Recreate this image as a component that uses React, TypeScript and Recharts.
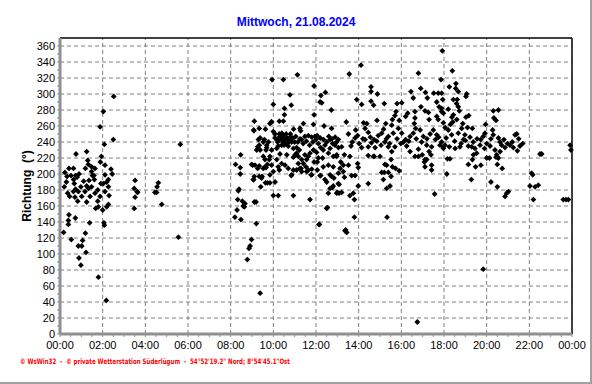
import { ScatterChart, Scatter, XAxis, YAxis, ReferenceLine } from 'recharts'

const TITLE = 'Mittwoch, 21.08.2024'
const Y_LABEL = 'Richtung  (°)'
const FOOTER = '© WsWin32  -  © private Wetterstation Süderlügum  -  54°52\'19.2" Nord; 8°54\'45.1"Ost'

const HOUR_TICKS = [0, 2, 4, 6, 8, 10, 12, 14, 16, 18, 20, 22, 24]
const HOUR_LABELS = ['00:00', '02:00', '04:00', '06:00', '08:00', '10:00', '12:00', '14:00', '16:00', '18:00', '20:00', '22:00', '00:00']
const DEG_TICKS = [0, 20, 40, 60, 80, 100, 120, 140, 160, 180, 200, 220, 240, 260, 280, 300, 320, 340, 360]

// minor ticks on the axes (half hours, 10 degrees)
const MINOR_HOURS = Array.from({ length: 49 }, (_, i) => i / 2)
const MINOR_DEGS = Array.from({ length: 37 }, (_, i) => i * 10)

// [hour of day, direction in degrees]
const night: [number, number][] = [
  [2.03, 278], [1.88, 259], [2.52, 297], [2.5, 243], [2.08, 237], [0.75, 225], [1.25, 228], [1.3, 217],
  [1.94, 222], [1.89, 215], [0.42, 207], [0.63, 207], [0.23, 202], [0.33, 197], [0.52, 198], [0.2, 184],
  [0.3, 190], [0.8, 196], [0.67, 188], [0.63, 178], [0.7, 171], [0.83, 166], [1.02, 172], [0.98, 184],
  [1.11, 191], [1.19, 207], [1.33, 212], [1.48, 209], [1.64, 207], [1.52, 198], [1.61, 193], [1.25, 185],
  [1.33, 182], [1.48, 184], [1.17, 178], [1.25, 165], [1.41, 172], [1.64, 176], [1.77, 180], [1.88, 172],
  [1.77, 166], [1.67, 157], [1.8, 159], [2.0, 155], [2.19, 159], [2.27, 162], [2.3, 173], [2.11, 178],
  [2.27, 184], [2.19, 190], [2.27, 193], [2.11, 199], [2.39, 206], [2.45, 200], [2.11, 211], [2.03, 188],
  [1.92, 188], [1.48, 203], [1.59, 198], [1.36, 192], [0.86, 178], [0.73, 181], [0.64, 193], [0.73, 198],
  [0.89, 200], [0.45, 172], [0.36, 176],
  [0.17, 127], [0.53, 118], [0.86, 110], [1.02, 110], [1.06, 117], [1.19, 126], [1.22, 102], [0.89, 95],
  [0.98, 86], [1.8, 71], [2.17, 42], [0.39, 142], [0.39, 137], [0.42, 149], [0.72, 145], [1.39, 139],
  [2.06, 139], [2.08, 136],
]

const earlyMorning: [number, number][] = [
  [3.52, 192], [3.48, 182], [3.61, 178], [3.64, 177], [3.52, 171], [3.48, 157], [4.45, 177], [4.53, 177],
  [4.55, 184], [4.61, 189], [4.77, 162], [5.64, 237], [5.55, 121],
]

const morning: [number, number][] = [
  [8.23, 212], [8.47, 224], [8.45, 208], [8.45, 200], [8.36, 179], [8.39, 181], [8.33, 168], [8.3, 155],
  [8.2, 146], [8.48, 143], [8.55, 166], [8.59, 160], [8.64, 159], [8.67, 163], [8.98, 212], [9.08, 193],
  [9.11, 165], [9.11, 266], [9.08, 255], [8.98, 118], [8.91, 110], [8.86, 107], [8.78, 93], [9.38, 51],
  [9.2, 138], [9.19, 165], [9.06, 193], [9.34, 257], [9.41, 184], [9.47, 197], [9.34, 210], [9.38, 230],
  [9.27, 234], [9.63, 256], [9.58, 243], [9.69, 233], [9.61, 218], [9.66, 208], [9.63, 189], [9.72, 189],
  [9.84, 189], [10.08, 190], [10.0, 173], [10.23, 173],
]

const midday: [number, number][] = [
  [9.94, 318], [10.47, 318], [11.13, 324], [10.0, 287], [10.52, 282], [10.52, 274], [10.78, 299], [10.84, 286],
  [9.91, 265], [10.28, 266], [10.47, 266], [10.28, 250], [11.72, 168], [11.91, 310], [12.19, 290], [12.27, 289],
  [12.23, 298], [12.44, 302], [12.72, 280], [11.91, 274], [11.88, 262], [12.38, 260], [12.73, 257], [12.16, 137],
  [12.53, 158], [10.94, 173], [10.84, 198], [10.94, 205], [11.3, 207], [11.77, 199], [12.19, 198], [12.66, 199],
  [12.77, 183], [13.0, 177], [12.5, 190], [11.25, 257], [11.41, 263], [10.95, 256], [11.28, 254], [9.09, 254],
  [9.84, 263], [9.92, 265], [10.0, 253], [10.08, 250], [10.08, 245], [10.16, 243], [10.28, 246], [10.39, 243],
  [10.47, 247], [10.55, 243], [10.63, 245], [10.7, 243], [10.78, 246], [10.86, 240], [10.55, 238], [10.39, 236],
  [10.23, 235], [10.16, 232], [10.7, 235], [10.94, 232], [11.09, 233], [11.22, 230], [11.09, 226], [11.17, 222],
  [11.33, 218], [11.41, 213], [11.53, 209], [11.64, 205], [11.8, 199], [11.56, 218], [11.48, 224], [11.64, 222],
  [11.72, 226], [11.88, 230], [12.03, 227], [12.11, 220], [12.06, 215], [11.91, 215], [11.8, 206], [11.33, 243],
  [11.48, 247], [11.64, 248], [11.8, 246], [11.95, 247], [12.0, 243], [12.11, 238], [12.22, 233], [12.34, 230],
  [12.42, 236], [12.5, 240], [12.66, 243], [12.78, 238], [12.89, 236], [12.97, 240], [13.05, 233], [12.66, 232],
  [12.58, 226], [12.81, 222], [12.97, 222], [12.31, 220], [11.02, 224], [10.94, 221], [11.17, 213], [11.25, 207],
  [11.33, 203], [10.63, 224], [10.31, 225], [10.16, 218], [10.23, 209], [10.28, 205], [9.92, 230], [9.84, 222],
  [9.81, 218], [9.72, 212], [9.61, 209], [9.53, 222], [9.66, 230], [9.34, 236], [9.22, 230], [9.3, 243],
  [9.38, 245], [9.53, 240], [9.69, 236], [9.77, 240], [9.53, 207], [9.27, 207], [9.14, 211], [9.03, 211],
  [9.11, 197], [9.34, 197], [9.45, 195], [9.84, 199], [9.92, 211], [10.0, 203], [10.39, 213], [10.55, 211],
  [10.7, 207], [10.86, 199], [11.09, 205], [11.56, 203], [12.06, 205], [12.22, 198], [12.34, 209], [12.58, 211],
  [12.81, 209], [12.73, 197], [12.84, 195], [13.05, 201], [13.05, 188], [12.97, 176], [12.81, 185], [12.66, 182],
  [12.42, 193], [12.58, 176], [12.5, 157], [12.14, 137], [13.36, 129],
  [10.2, 240], [10.35, 248], [10.45, 240], [10.6, 250], [10.75, 241], [10.9, 245], [11.0, 240], [11.05, 247],
  [10.5, 236], [10.65, 238], [10.25, 243], [10.4, 251], [10.8, 250], [11.15, 240], [11.25, 244], [11.4, 238],
  [11.55, 241], [11.7, 236], [11.85, 240], [12.05, 248], [12.2, 245], [12.35, 243], [12.6, 247], [12.75, 244],
  [12.9, 246],
]

const afternoon: [number, number][] = [
  [17.92, 354], [14.11, 336], [13.56, 325], [16.8, 326], [17.86, 318], [14.58, 309], [14.58, 303], [14.88, 300],
  [13.91, 293], [14.14, 287], [14.58, 291], [14.7, 286], [15.2, 288], [15.8, 288], [16.02, 289], [16.45, 303],
  [16.56, 295], [16.91, 307], [17.13, 302], [17.22, 295], [17.52, 301], [17.73, 301], [17.66, 290], [17.77, 284],
  [17.89, 278], [16.92, 284], [17.11, 279], [17.27, 277], [16.64, 278], [16.3, 276], [16.2, 272], [17.66, 272],
  [17.73, 268], [17.3, 268], [16.64, 270], [16.61, 263], [16.67, 257], [15.75, 278], [15.7, 273], [15.58, 268],
  [15.9, 267], [15.55, 261], [15.27, 263], [14.86, 267], [13.42, 265], [13.86, 255], [13.52, 250], [14.23, 264],
  [14.38, 263], [14.3, 257], [14.45, 252], [14.55, 246], [14.72, 243], [14.92, 248], [15.08, 251], [15.17, 256],
  [15.39, 247], [15.62, 251], [15.86, 257], [16.02, 251], [16.2, 243], [16.41, 247], [16.56, 251], [16.88, 255],
  [17.03, 247], [17.5, 255], [17.66, 249], [17.89, 240], [13.05, 243], [13.2, 234], [13.64, 235], [13.83, 245],
  [14.02, 238], [14.14, 233], [14.3, 243], [14.45, 234], [14.77, 233], [15.05, 236], [15.23, 240], [15.39, 234],
  [15.55, 228], [15.7, 234], [15.98, 238], [16.25, 235], [16.41, 228], [16.64, 222], [16.8, 222], [16.98, 224],
  [16.8, 231], [17.19, 236], [17.42, 234], [17.3, 228], [17.11, 218], [17.08, 215], [17.42, 211], [17.39, 224],
  [17.81, 236], [17.97, 234], [13.16, 215], [13.28, 211], [13.52, 211], [13.59, 222], [13.95, 213], [13.98, 208],
  [14.45, 223], [14.73, 222], [15.0, 222], [15.31, 211], [15.52, 218], [15.58, 209], [15.73, 207], [15.9, 204],
  [15.08, 202], [15.2, 202], [15.39, 202], [15.16, 193], [15.52, 197], [15.47, 185], [15.31, 182], [14.45, 188],
  [13.98, 185], [13.67, 198], [13.83, 198], [13.33, 196], [13.08, 187], [13.08, 176], [13.2, 177], [13.59, 173],
  [13.75, 176], [13.8, 168], [13.8, 146], [13.39, 130], [13.44, 127], [15.33, 146], [17.56, 175], [17.19, 218],
  [17.11, 209], [17.42, 205], [13.33, 224], [12.97, 224], [13.13, 207], [13.28, 203], [14.69, 222], [15.23, 212],
  [13.7, 240], [13.95, 248], [14.2, 244], [14.6, 239], [14.85, 241], [15.3, 244], [15.45, 238], [15.8, 244],
  [16.1, 240], [16.35, 241], [16.7, 244], [16.95, 240], [17.2, 244], [17.35, 250], [17.6, 243], [17.75, 246],
  [16.75, 15],
]

const evening: [number, number][] = [
  [18.39, 329], [18.25, 309], [18.56, 313], [18.55, 307], [18.67, 303], [19.06, 300], [19.03, 297], [17.89, 301],
  [17.94, 293], [18.44, 293], [18.62, 293], [18.59, 288], [18.67, 284], [18.72, 279], [18.2, 281], [17.89, 282],
  [17.97, 276], [18.44, 274], [18.41, 265], [18.37, 271], [19.03, 271], [19.16, 273], [20.31, 279], [20.55, 280],
  [20.34, 270], [20.44, 267], [19.95, 262], [19.33, 257], [18.88, 263], [18.83, 257], [17.97, 264], [18.05, 258],
  [18.2, 255], [18.36, 249], [18.67, 251], [18.98, 249], [18.91, 243], [19.22, 246], [19.37, 240], [19.72, 243],
  [19.84, 247], [19.92, 251], [20.28, 255], [20.31, 249], [20.55, 245], [20.63, 240], [20.81, 243], [21.33, 249],
  [21.41, 250], [21.09, 236], [21.25, 233], [21.44, 229], [21.56, 235], [21.69, 238], [20.97, 238], [20.86, 233],
  [20.63, 228], [20.47, 224], [20.55, 220], [20.39, 230], [20.16, 235], [20.0, 238], [19.69, 236], [19.45, 232],
  [19.53, 226], [19.38, 224], [19.3, 234], [19.14, 235], [18.75, 234], [18.52, 232], [18.25, 234], [18.05, 236],
  [17.97, 232], [18.16, 219], [18.28, 219], [19.14, 212], [19.33, 218], [19.48, 209], [19.73, 211], [19.28, 193],
  [18.13, 200], [20.2, 190], [20.5, 184], [20.5, 212], [20.73, 207], [20.44, 221], [20.86, 172], [20.94, 176],
  [21.02, 178], [20.0, 220], [20.13, 220], [19.84, 81],
  [18.1, 245], [18.5, 241], [18.8, 238], [19.0, 242], [19.55, 244], [19.9, 232], [20.2, 244], [20.7, 236],
  [21.2, 240], [21.5, 244], [18.3, 262], [18.6, 268], [19.1, 258],
]

const lateEvening: [number, number][] = [
  [22.11, 201], [22.16, 199], [22.03, 185], [22.27, 184], [22.42, 186], [22.19, 168], [22.58, 225], [22.5, 225],
  [23.59, 168], [23.72, 168], [23.83, 168], [23.91, 236], [23.95, 230],
]

const data = [...night, ...earlyMorning, ...morning, ...midday, ...afternoon, ...evening, ...lateEvening].map(
  ([t, dir]) => ({ t, dir })
)

const FONT = '"Liberation Sans", Arial, sans-serif'

const Diamond = (props: any) => {
  const { cx, cy } = props
  const r = 2.9
  return <path d={`M${cx},${cy - r}L${cx + r},${cy}L${cx},${cy + r}L${cx - r},${cy}Z`} fill="#000" />
}

export default function App() {
  return (
    <div style={{ position: 'absolute', left: 0, top: 0, width: 592, height: 384, background: '#fff' }}>
      <ScatterChart width={592} height={384} margin={{ top: 38, right: 20, bottom: 30, left: 0 }}>
        {DEG_TICKS.slice(1).map((v) => (
          <ReferenceLine key={`h${v}`} y={v} stroke="#808080" strokeDasharray="4 3" />
        ))}
        {HOUR_TICKS.slice(1, -1).map((v) => (
          <ReferenceLine key={`v${v}`} x={v} stroke="#808080" strokeDasharray="4 3" />
        ))}
        <ReferenceLine y={370} stroke="#000" strokeWidth={1.5} />
        <ReferenceLine x={24} stroke="#000" strokeWidth={1.5} />
        <XAxis
          type="number"
          dataKey="t"
          domain={[0, 24]}
          ticks={MINOR_HOURS}
          interval={0}
          height={20}
          tickSize={3}
          tickMargin={4}
          tickFormatter={(v: number) => {
            const i = HOUR_TICKS.indexOf(v)
            return i >= 0 ? HOUR_LABELS[i] : ''
          }}
          axisLine={{ stroke: '#909090', strokeWidth: 3 }}
          tickLine={{ stroke: '#909090' }}
          tick={{ fill: '#000', fontSize: 11, fontFamily: FONT }}
        />
        <YAxis
          type="number"
          dataKey="dir"
          domain={[0, 370]}
          ticks={MINOR_DEGS}
          interval={0}
          width={60}
          tickSize={3}
          tickMargin={2}
          tickFormatter={(v: number) => (DEG_TICKS.includes(v) ? String(v) : '')}
          axisLine={{ stroke: '#909090', strokeWidth: 3 }}
          tickLine={{ stroke: '#909090' }}
          tick={{ fill: '#000', fontSize: 11, fontFamily: FONT }}
        />
        <Scatter data={data} shape={<Diamond />} isAnimationActive={false} />
      </ScatterChart>
      <svg width={592} height={384} style={{ position: 'absolute', left: 0, top: 0, pointerEvents: 'none' }}>
        <text x={296} y={26} textAnchor="middle" fill="#0000ff" fontSize={12} fontWeight="bold" fontFamily={FONT}>
          {TITLE}
        </text>
        <text
          transform="translate(31,186) rotate(-90)"
          textAnchor="middle"
          fill="#000"
          fontSize={12}
          fontWeight="bold"
          fontFamily={FONT}
          style={{ whiteSpace: 'pre' }}
        >
          {Y_LABEL}
        </text>
        <text
          x={20}
          y={364}
          fill="#ff0000"
          fontSize={7.5}
          fontWeight="bold"
          fontFamily="DejaVu Sans, sans-serif"
          textLength={270}
          lengthAdjust="spacingAndGlyphs"
          style={{ whiteSpace: 'pre' }}
        >
          {FOOTER}
        </text>
        <line x1={591} y1={0} x2={591} y2={384} stroke="#a0a0a0" strokeWidth={2} />
        <line x1={0} y1={383} x2={592} y2={383} stroke="#a0a0a0" strokeWidth={2} />
      </svg>
    </div>
  )
}
